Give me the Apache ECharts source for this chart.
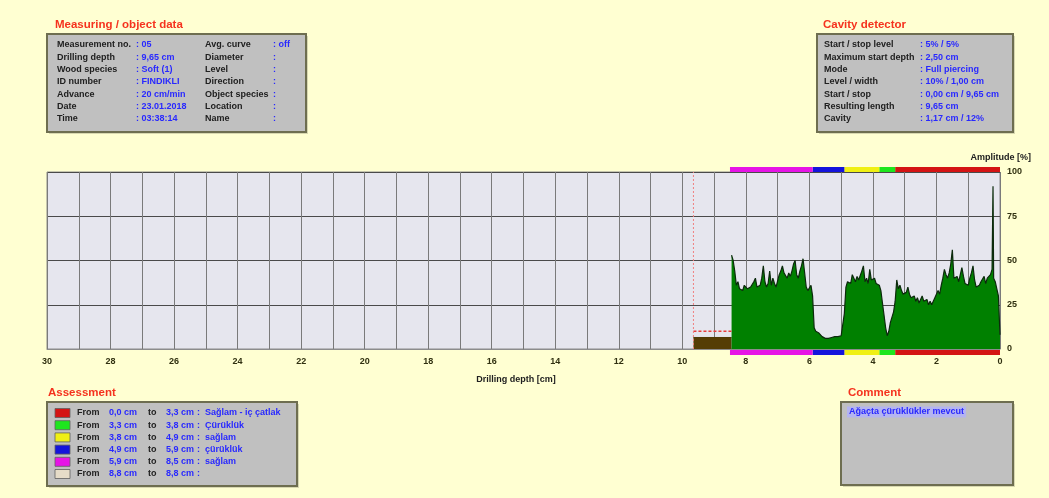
<!DOCTYPE html>
<html>
<head>
<meta charset="utf-8">
<script src="https://cdn.jsdelivr.net/npm/echarts@6/dist/echarts.min.js"></script>
<style>
  html, body { margin: 0; padding: 0; background: #ffffd2; }
  #chart { width: 1049px; height: 498px; }
</style>
</head>
<body>
<div id="chart"></div>
<script>
// ---- measurement header ----
const objectLabelsLeft  = ['Measurement no.', 'Drilling depth', 'Wood species', 'ID number', 'Advance', 'Date', 'Time'];
const objectValuesLeft  = ['05', '9,65 cm', 'Soft (1)', 'FINDIKLI', '20 cm/min', '23.01.2018', '03:38:14'];
const objectLabelsRight = ['Avg. curve', 'Diameter', 'Level', 'Direction', 'Object species', 'Location', 'Name'];
const objectValuesRight = ['off', '', '', '', '', '', ''];

// ---- cavity detector ----
const cavityLabels = ['Start / stop level', 'Maximum start depth', 'Mode', 'Level / width', 'Start / stop', 'Resulting length', 'Cavity'];
const cavityValues = ['5% / 5%', '2,50 cm', 'Full piercing', '10% / 1,00 cm', '0,00 cm / 9,65 cm', '9,65 cm', '1,17 cm / 12%'];

// ---- assessment zones (cm) ----
const assessFrom   = [0.0, 3.3, 3.8, 4.9, 5.9, 8.8];
const assessTo     = [3.3, 3.8, 4.9, 5.9, 8.5, 8.8];
const assessText   = ['Sağlam - iç çatlak', 'Çürüklük', 'sağlam', 'çürüklük', 'sağlam', ''];
const assessColors = ['#d41414', '#1ee61e', '#f0f014', '#1414dc', '#e614e6', '#e6dcc8'];

const commentText = 'Ağaçta çürüklükler mevcut';

// ---- axes ----
const depthMax = 30;
const depthTicks = [30, 28, 26, 24, 22, 20, 18, 16, 14, 12, 10, 8, 6, 4, 2, 0];
const amplitudeTicks = [0, 25, 50, 75, 100];

// ---- drilling / cavity settings ----
const drillingDepth = 9.65;
const cavityLevel = 10;
// feed section before the resistance curve: [depth, amplitude]
const feedBlock = [[9.65, 6.5], [8.45, 6.5]];

// ---- resistance amplitude profile: [depth cm, amplitude %] ----
const amplitudeProfile = [
  [8.45, 53], [8.40, 50], [8.35, 44], [8.30, 36], [8.25, 38], [8.20, 34], [8.15, 35], [8.10, 33],
  [8.05, 36], [8.00, 37], [7.95, 34], [7.90, 33], [7.85, 35], [7.80, 34], [7.75, 38], [7.70, 40],
  [7.65, 35], [7.60, 34], [7.55, 36], [7.50, 40], [7.45, 47], [7.40, 38], [7.35, 35], [7.30, 37],
  [7.25, 44], [7.20, 36], [7.15, 40], [7.10, 37], [7.05, 35], [7.00, 36], [6.95, 42], [6.90, 44],
  [6.85, 47], [6.80, 43], [6.75, 42], [6.70, 40], [6.65, 43], [6.60, 41], [6.55, 44], [6.50, 48],
  [6.45, 50], [6.40, 42], [6.35, 40], [6.30, 44], [6.25, 47], [6.20, 51], [6.15, 43], [6.10, 35],
  [6.05, 33], [6.00, 34], [5.95, 36], [5.90, 30], [5.85, 12], [5.80, 10], [5.75, 10], [5.70, 9],
  [5.65, 10], [5.60, 7], [5.55, 6], [5.50, 6], [5.45, 6.5], [5.40, 6], [5.35, 6], [5.30, 6.5],
  [5.25, 6], [5.20, 7], [5.15, 6.5], [5.10, 7], [5.05, 8], [5.00, 7.5], [4.95, 8], [4.90, 20],
  [4.85, 35], [4.80, 38], [4.75, 39], [4.70, 37], [4.65, 42], [4.60, 40], [4.55, 38], [4.50, 41],
  [4.45, 39], [4.40, 38], [4.35, 44], [4.30, 47], [4.25, 38], [4.20, 40], [4.15, 37], [4.10, 45],
  [4.05, 39], [4.00, 38], [3.95, 40], [3.90, 37], [3.85, 38], [3.80, 36], [3.75, 33], [3.70, 26],
  [3.65, 19], [3.60, 12], [3.55, 7.5], [3.50, 10], [3.45, 15], [3.40, 18], [3.35, 21], [3.30, 27],
  [3.25, 39], [3.20, 34], [3.15, 36], [3.10, 33], [3.05, 31], [3.00, 30], [2.95, 32], [2.90, 35],
  [2.85, 31], [2.80, 29], [2.75, 28], [2.70, 30], [2.65, 27], [2.60, 29], [2.55, 26], [2.50, 28],
  [2.45, 30], [2.40, 27], [2.35, 26], [2.30, 28], [2.25, 25], [2.20, 27], [2.15, 25], [2.10, 26],
  [2.05, 29], [2.00, 28], [1.95, 33], [1.90, 31], [1.85, 36], [1.80, 40], [1.75, 45], [1.70, 42],
  [1.65, 40], [1.60, 43], [1.55, 48], [1.50, 56], [1.45, 40], [1.40, 39], [1.35, 41], [1.30, 38],
  [1.25, 42], [1.20, 46], [1.15, 41], [1.10, 37], [1.05, 38], [1.00, 36], [0.95, 40], [0.90, 43],
  [0.85, 47], [0.80, 39], [0.75, 35], [0.70, 34], [0.65, 36], [0.60, 38], [0.55, 39], [0.50, 41],
  [0.45, 37], [0.40, 40], [0.35, 39], [0.30, 42], [0.25, 45], [0.22, 92], [0.20, 40], [0.15, 38],
  [0.10, 34], [0.05, 30], [0.00, 8]
];

// ---- styling ----
const FONT = '"Liberation Sans", Arial, sans-serif';
const PAGE_BG = '#ffffd2';
const BOX_BG = '#c0c0c0';
const TITLE_RED = '#f5321e';
const VALUE_BLUE = '#2828ff';
const PLOT = { left: 47, right: 49, top: 172, height: 177 };

function txt(x, y, text, color, opts) {
  return Object.assign({
    type: 'text', x: x, y: y,
    style: Object.assign({
      text: text, fill: color, font: 'bold 9px ' + FONT, textVerticalAlign: 'middle'
    }, (opts && opts.style) || {})
  }, (opts && opts.el) || {});
}
const TITLE_FONT = { style: { font: 'bold 11.5px ' + FONT } };

function box(x, y, w, h) {
  return [
    { type: 'rect', shape: { x: x + 2, y: y + 2, width: w, height: h }, style: { fill: '#d8d8b0' } },
    { type: 'rect', shape: { x: x, y: y, width: w, height: h }, style: { fill: BOX_BG, stroke: '#6e6e50', lineWidth: 2 } }
  ];
}

const graphics = [];
const rowY = (i) => 45 + i * 12.3;

// Measuring / object data
graphics.push(txt(55, 25, 'Measuring / object data', TITLE_RED, TITLE_FONT));
graphics.push(...box(47, 34, 259, 98));
objectLabelsLeft.forEach((l, i) => {
  graphics.push(txt(57, rowY(i), l, '#202020'));
  graphics.push(txt(136, rowY(i), ': ' + objectValuesLeft[i], VALUE_BLUE));
  graphics.push(txt(205, rowY(i), objectLabelsRight[i], '#202020'));
  graphics.push(txt(273, rowY(i), ': ' + objectValuesRight[i], VALUE_BLUE));
});

// Cavity detector
graphics.push(txt(823, 25, 'Cavity detector', TITLE_RED, TITLE_FONT));
graphics.push(...box(817, 34, 196, 98));
cavityLabels.forEach((l, i) => {
  graphics.push(txt(824, rowY(i), l, '#202020'));
  graphics.push(txt(920, rowY(i), ': ' + cavityValues[i], VALUE_BLUE));
});

// Axis captions
graphics.push(txt(1031, 158, 'Amplitude [%]', '#202020', { style: { textAlign: 'right' } }));
graphics.push(txt(516, 380, 'Drilling depth [cm]', '#202020', { style: { textAlign: 'center' } }));

// Assessment
graphics.push(txt(48, 393, 'Assessment', TITLE_RED, TITLE_FONT));
graphics.push(...box(47, 402, 250, 84));
assessFrom.forEach((f, i) => {
  const y = 413 + i * 12.2;
  graphics.push({ type: 'rect', shape: { x: 55, y: y - 4.5, width: 15, height: 9 },
    style: { fill: assessColors[i], stroke: '#606060', lineWidth: 0.8 } });
  graphics.push(txt(77, y, 'From', '#202020'));
  graphics.push(txt(109, y, f.toFixed(1).replace('.', ',') + ' cm', VALUE_BLUE));
  graphics.push(txt(148, y, 'to', '#202020'));
  graphics.push(txt(166, y, assessTo[i].toFixed(1).replace('.', ',') + ' cm', VALUE_BLUE));
  graphics.push(txt(197, y, ':  ' + assessText[i], VALUE_BLUE));
});

// Comment
graphics.push(txt(848, 393, 'Comment', TITLE_RED, TITLE_FONT));
graphics.push(...box(841, 402, 172, 83));
graphics.push(txt(847, 412, commentText, VALUE_BLUE, { style: { backgroundColor: '#b4b4f0', padding: [1, 2] } }));

// zone strip renderer (top and bottom of the plot)
function zoneItem(params, api) {
  const a = api.coord([api.value(0), 1]);
  const b = api.coord([api.value(1), 0]);
  return {
    type: 'rect',
    shape: { x: Math.min(a[0], b[0]), y: a[1], width: Math.abs(b[0] - a[0]), height: b[1] - a[1] },
    style: { fill: api.visual('color') }
  };
}
const zoneData = assessFrom.map((f, i) => ({
  value: [f, assessTo[i]],
  itemStyle: { color: assessColors[i] }
})).filter(d => d.value[1] > d.value[0]);

const hiddenX = (gi) => ({ type: 'value', gridIndex: gi, min: 0, max: depthMax, inverse: true, show: false });
const hiddenY = (gi) => ({ type: 'value', gridIndex: gi, min: 0, max: 1, show: false });

const option = {
  backgroundColor: PAGE_BG,
  animation: false,
  graphic: graphics,
  grid: [
    { left: PLOT.left, right: PLOT.right, top: PLOT.top, height: PLOT.height, show: true,
      backgroundColor: '#e6e6ee', borderColor: '#8c8c8c', borderWidth: 1 },
    { left: PLOT.left, right: PLOT.right, top: PLOT.top - 5, height: 5 },
    { left: PLOT.left, right: PLOT.right, top: PLOT.top + PLOT.height + 1, height: 5 }
  ],
  xAxis: [
    { type: 'value', gridIndex: 0, min: 0, max: depthMax, interval: 1, inverse: true,
      axisLine: { show: true, lineStyle: { color: '#8c8c8c' } },
      axisTick: { show: false },
      axisLabel: {
        margin: 8, color: '#303010', fontSize: 9, fontWeight: 'bold', fontFamily: FONT,
        formatter: (v) => depthTicks.indexOf(v) >= 0 ? String(v) : ''
      },
      splitLine: { show: true, lineStyle: { color: '#7a7a7a', width: 1 } } },
    hiddenX(1), hiddenX(2)
  ],
  yAxis: [
    { type: 'value', gridIndex: 0, min: 0, max: 100, interval: 25, position: 'right',
      axisLine: { show: false }, axisTick: { show: false },
      axisLabel: {
        margin: 7, color: '#303010', fontSize: 9, fontWeight: 'bold', fontFamily: FONT,
        formatter: (v) => amplitudeTicks.indexOf(v) >= 0 ? String(v) : ''
      },
      splitLine: { show: true, lineStyle: { color: '#4a4a4a', width: 1 } } },
    hiddenY(1), hiddenY(2)
  ],
  series: [
    { name: 'feed', type: 'line', xAxisIndex: 0, yAxisIndex: 0, data: feedBlock,
      symbol: 'none', lineStyle: { color: '#4e3a06', width: 1 },
      areaStyle: { color: '#553d05', opacity: 1 }, z: 3 },
    { name: 'amplitude', type: 'line', xAxisIndex: 0, yAxisIndex: 0, data: amplitudeProfile,
      symbol: 'none', lineStyle: { color: '#0c2a0c', width: 1.2 },
      areaStyle: { color: '#008000', opacity: 1 }, z: 4 },
    { name: 'cavity level', type: 'line', xAxisIndex: 0, yAxisIndex: 0,
      data: [[drillingDepth, cavityLevel], [feedBlock[1][0], cavityLevel]],
      symbol: 'none', lineStyle: { color: '#e83c3c', width: 1.5, type: [3, 2] }, z: 5 },
    { name: 'drilling end', type: 'line', xAxisIndex: 0, yAxisIndex: 0,
      data: [[drillingDepth, 0], [drillingDepth, 100]],
      symbol: 'none', lineStyle: { color: '#f08080', width: 1, type: [2, 2] }, z: 5 },
    { name: 'zones top', type: 'custom', xAxisIndex: 1, yAxisIndex: 1, data: zoneData, renderItem: zoneItem },
    { name: 'zones bottom', type: 'custom', xAxisIndex: 2, yAxisIndex: 2, data: zoneData, renderItem: zoneItem }
  ]
};

const chart = echarts.init(document.getElementById('chart'), null, { renderer: 'canvas' });
chart.setOption(option);
</script>
</body>
</html>
